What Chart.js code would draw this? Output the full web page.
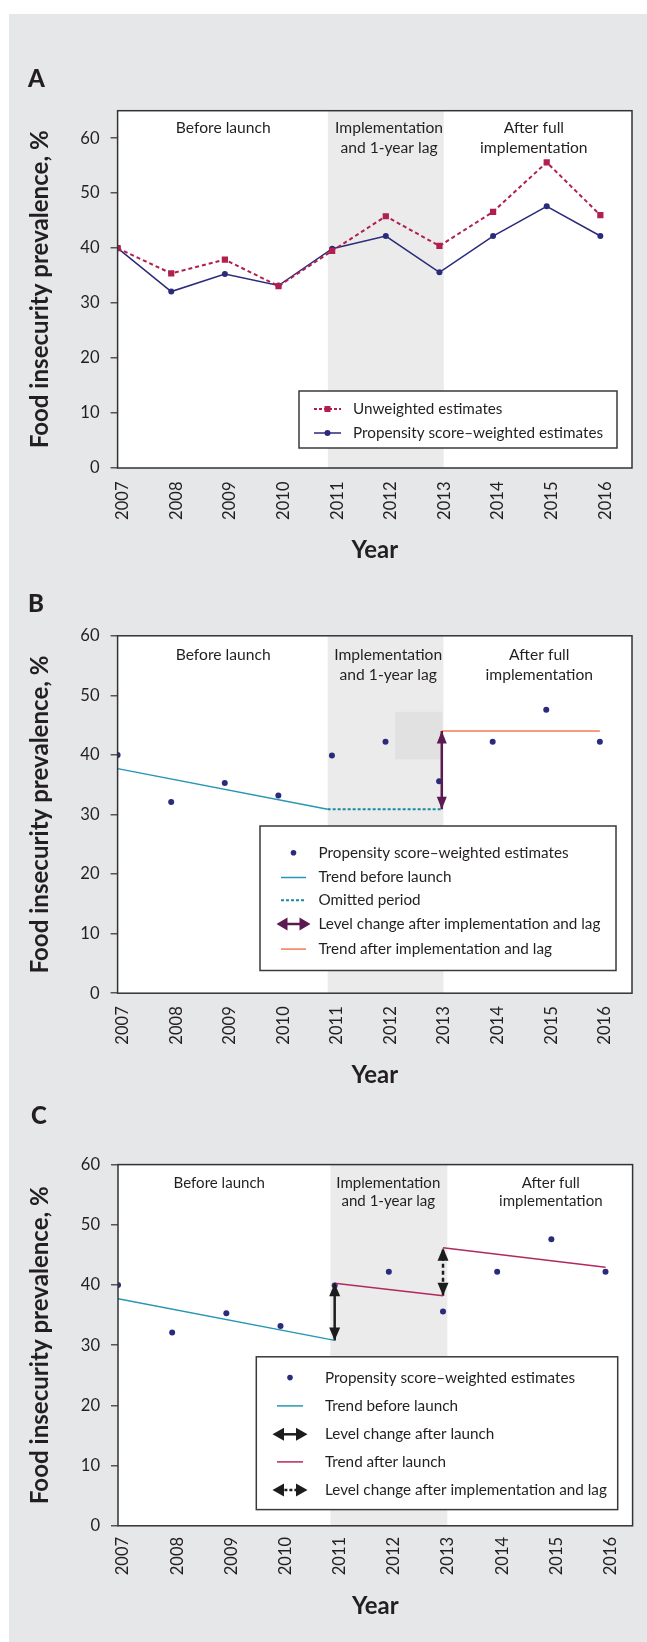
<!DOCTYPE html>
<html lang="en">
<head>
<meta charset="utf-8">
<title>Food insecurity prevalence, 2007–2016</title>
<script src="https://cdn.jsdelivr.net/npm/chart.js@4.4.1/dist/chart.umd.min.js"></script>
<style>
  html, body { margin:0; padding:0; background:#ffffff; }
  body { position:relative; width:647px; height:1642px; overflow:hidden; }
  #bg { position:absolute; left:9px; top:14px; width:638px; height:1628px; background:#e6e7e8; }
  .panel { position:absolute; left:0; width:647px; }
  .panel canvas { display:block; }
  .letter { position:absolute; margin:0; font-family:Lato, "Noto Sans", sans-serif; font-weight:900; font-size:24px; line-height:24px; color:#231f20; }
</style>
</head>
<body>
<div id="bg"></div>
<div class="panel" style="top:0px;height:580px"><canvas id="chartA" width="647" height="580"></canvas></div>
<div class="panel" style="top:580px;height:520px"><canvas id="chartB" width="647" height="520"></canvas></div>
<div class="panel" style="top:1100px;height:542px"><canvas id="chartC" width="647" height="542"></canvas></div>
<div class="letter" style="left:28px;top:66px">A</div>
<div class="letter" style="left:28px;top:591px">B</div>
<div class="letter" style="left:31px;top:1103px">C</div>
<script>
// ---------------- data ----------------
const years = [2007, 2008, 2009, 2010, 2011, 2012, 2013, 2014, 2015, 2016];
const yTicks = [0, 10, 20, 30, 40, 50, 60];
const unweighted = [40.0, 35.4, 37.9, 33.1, 39.5, 45.8, 40.4, 46.6, 55.6, 46.0];
const weighted   = [40.0, 32.1, 35.3, 33.2, 39.9, 42.2, 35.6, 42.2, 47.6, 42.2];
const shadeYears = [2010.92, 2013.08];
const periodLabels = [['Before launch'], ['Implementation', 'and 1-year lag'], ['After full', 'implementation']];

// Panel B (interrupted time series, omitted period)
const trendBeforeX_B = [2007, 2010.92];
const trendBeforeY_B = [37.7, 30.9];
const omittedX = [2010.92, 2013.05];
const omittedY = [30.9, 30.9];
const levelChangeX_B = [2013.05, 2013.05];
const levelChangeY_B = [30.9, 44.0];
const trendAfterX_B = [2013.05, 2016];
const trendAfterY_B = [44.0, 44.0];
const greyBoxX = [2012.18, 2013.06];
const greyBoxY = [39.25, 47.25];

// Panel C (two level changes)
const trendBeforeX_C = [2007, 2011];
const trendBeforeY_C = [37.7, 30.8];
const launchChangeX = [2011, 2011];
const launchChangeY = [30.8, 40.3];
const afterLaunchX1 = [2011, 2013];
const afterLaunchY1 = [40.3, 38.2];
const implChangeX = [2013, 2013];
const implChangeY = [38.2, 46.2];
const afterLaunchX2 = [2013, 2016];
const afterLaunchY2 = [46.2, 42.95];

// ---------------- styles ----------------
const FONT = 'Lato, "Noto Sans", sans-serif';
const INK = '#231f20';
const NAVY = '#2a2b7a';
const CRIMSON = '#b01f4e';
const TEAL = '#2596b4';
const TEAL_DARK = '#1a8aa3';
const ORANGE = '#f37b52';
const PLUM = '#5c1a52';
const BERRY = '#b3285f';
const BLACK = '#1c1c1c';

const mctx = document.createElement('canvas').getContext('2d');
function fit(text, target, weight) {
  mctx.font = weight + ' 100px ' + FONT;
  return +(100 * target / mctx.measureText(text).width).toFixed(2);
}
const tickSize = fit('2007', 38.5, 400);
const legendSize = fit('Propensity score\u2013weighted estimates', 250, 400);
const yTitleSize = fit('Food insecurity prevalence, %', 318, 700);
const xTitleSize = fit('Year', 46.7, 700);

function pts(xs, ys) { return xs.map((x, i) => ({ x: x, y: ys[i] })); }

function head(ctx, x, y, dx, dy, len, halfW) {
  const bx = x - dx * len, by = y - dy * len;
  const px = -dy, py = dx;
  ctx.beginPath();
  ctx.moveTo(x, y);
  ctx.lineTo(bx + px * halfW, by + py * halfW);
  ctx.lineTo(bx - px * halfW, by - py * halfW);
  ctx.closePath();
  ctx.fill();
}

function drawSymbol(ctx, s, cx, cy, half) {
  ctx.save();
  ctx.strokeStyle = s.color; ctx.fillStyle = s.color;
  if (s.type === 'dot') {
    ctx.beginPath(); ctx.arc(cx, cy, s.r, 0, Math.PI * 2); ctx.fill();
  } else if (s.type === 'line') {
    ctx.lineWidth = s.width; ctx.setLineDash(s.dash || []);
    ctx.beginPath(); ctx.moveTo(cx - half, cy); ctx.lineTo(cx + half, cy); ctx.stroke();
    ctx.setLineDash([]);
    if (s.marker === 'rect') ctx.fillRect(cx - s.size / 2, cy - s.size / 2, s.size, s.size);
    if (s.marker === 'circle') { ctx.beginPath(); ctx.arc(cx, cy, s.size, 0, Math.PI * 2); ctx.fill(); }
  } else if (s.type === 'arrow') {
    const L = s.half;
    ctx.lineWidth = s.width; ctx.setLineDash(s.dash || []);
    ctx.beginPath(); ctx.moveTo(cx - L + s.len * 0.6, cy); ctx.lineTo(cx + L - s.len * 0.6, cy); ctx.stroke();
    ctx.setLineDash([]);
    head(ctx, cx - L, cy, -1, 0, s.len, s.halfW);
    head(ctx, cx + L, cy, 1, 0, s.len, s.halfW);
  }
  ctx.restore();
}

function makeDecor(p) {
  return {
    id: 'decor' + p.name,
    beforeDraw(chart) {
      const { ctx, chartArea: a, scales: { x, y } } = chart;
      ctx.save();
      ctx.fillStyle = '#ffffff';
      ctx.fillRect(a.left, a.top, a.right - a.left, a.bottom - a.top);
      const s0 = x.getPixelForValue(shadeYears[0]), s1 = x.getPixelForValue(shadeYears[1]);
      ctx.fillStyle = '#ebebeb';
      ctx.fillRect(s0, a.top, s1 - s0, a.bottom - a.top);
      if (p.greyBox) {
        const bx0 = x.getPixelForValue(p.greyBox.x[0]), bx1 = x.getPixelForValue(p.greyBox.x[1]);
        const by0 = y.getPixelForValue(p.greyBox.y[1]), by1 = y.getPixelForValue(p.greyBox.y[0]);
        ctx.fillStyle = '#e1e1e1';
        ctx.fillRect(bx0, by0, bx1 - bx0, by1 - by0);
      }
      ctx.restore();
    },
    beforeDatasetsDraw(chart) {
      const { ctx, chartArea: a, scales: { x } } = chart;
      ctx.save();
      ctx.fillStyle = INK;
      ctx.font = '400 ' + p.regionSize + 'px ' + FONT;
      ctx.textAlign = 'center';
      ctx.textBaseline = 'middle';
      periodLabels.forEach((lines, i) => {
        const px = x.getPixelForValue(p.regionX[i]);
        lines.forEach((t, j) => ctx.fillText(t, px, a.top + p.regionY0 + j * p.regionGap));
      });
      ctx.restore();
    },
    afterDatasetsDraw(chart) {
      const { ctx, scales: { x, y } } = chart;
      (p.arrows || []).forEach(ar => {
        ctx.save();
        ctx.fillStyle = ar.color;
        const px0 = x.getPixelForValue(ar.x[0]), py0 = y.getPixelForValue(ar.y[0]);
        const px1 = x.getPixelForValue(ar.x[1]), py1 = y.getPixelForValue(ar.y[1]);
        head(ctx, px0, py0, 0, 1, ar.len, ar.halfW);
        head(ctx, px1, py1, 0, -1, ar.len, ar.halfW);
        ctx.restore();
      });
    },
    afterDraw(chart) {
      const { ctx, chartArea: a } = chart;
      ctx.save();
      ctx.strokeStyle = '#333333';
      ctx.lineWidth = 1.5;
      ctx.strokeRect(a.left, a.top, a.right - a.left, a.bottom - a.top);
      const lg = p.legend;
      ctx.fillStyle = '#ffffff';
      ctx.fillRect(lg.box[0], lg.box[1], lg.box[2], lg.box[3]);
      ctx.strokeStyle = '#3a3a3a';
      ctx.lineWidth = 1.5;
      ctx.strokeRect(lg.box[0], lg.box[1], lg.box[2], lg.box[3]);
      lg.items.forEach(it => {
        drawSymbol(ctx, it.sym, lg.symX, it.y, lg.symHalf);
        ctx.fillStyle = INK;
        ctx.font = '400 ' + legendSize + 'px ' + FONT;
        ctx.textAlign = 'left';
        ctx.textBaseline = 'middle';
        ctx.fillText(it.text, lg.textX, it.y);
      });
      ctx.restore();
    }
  };
}

function buildChart(id, p) {
  const xAxisH = p.titleOffset + xTitleSize / 2;
  return new Chart(document.getElementById(id), {
    type: 'line',
    data: { datasets: p.datasets },
    options: {
      responsive: false,
      maintainAspectRatio: false,
      animation: false,
      devicePixelRatio: 1,
      events: [],
      layout: { padding: { left: 0, top: p.top, right: 647 - p.right, bottom: p.height - p.bottom - xAxisH } },
      plugins: { legend: { display: false }, tooltip: { enabled: false }, title: { display: false } },
      elements: { line: { tension: 0 } },
      scales: {
        x: {
          type: 'linear', min: 2007, max: p.xMax,
          afterBuildTicks: s => { s.ticks = years.map(v => ({ value: v })); },
          afterFit: s => { s.height = xAxisH; },
          grid: { display: false, drawTicks: false },
          border: { display: false },
          ticks: {
            autoSkip: false, minRotation: 90, maxRotation: 90, padding: p.xTickPad, labelOffset: 5,
            color: INK, font: { family: FONT, size: tickSize, lineHeight: 1 },
            callback: v => String(v)
          },
          title: {
            display: true, text: 'Year', color: INK,
            font: { family: FONT, size: xTitleSize, weight: 'bold', lineHeight: 1 },
            padding: { top: 0, bottom: 0 }
          }
        },
        y: {
          min: 0, max: p.yMax,
          afterBuildTicks: s => { s.ticks = yTicks.map(v => ({ value: v })); },
          afterFit: s => { s.width = p.left; },
          grid: { drawOnChartArea: false, drawTicks: true, tickLength: 7, color: '#555555', lineWidth: 1.5 },
          border: { display: false },
          ticks: {
            padding: 11, color: INK, font: { family: FONT, size: tickSize },
            callback: v => String(v)
          },
          title: {
            display: true, text: 'Food insecurity prevalence, %', color: INK,
            font: { family: FONT, size: yTitleSize, weight: 'bold', lineHeight: 1 },
            padding: { top: 40 - yTitleSize / 2, bottom: 0 }
          }
        }
      }
    },
    plugins: [makeDecor(p)]
  });
}

const pointSet = {
  label: 'Propensity score\u2013weighted estimates',
  data: pts(years, weighted), showLine: false,
  pointRadius: 3, pointBorderWidth: 0, pointBackgroundColor: NAVY, borderColor: NAVY, order: 10
};
function lineSet(label, xs, ys, color, width, dash) {
  return { label: label, data: pts(xs, ys), borderColor: color, borderWidth: width, borderDash: dash || [], pointRadius: 0, fill: false, order: 1 };
}

// ---------------- Panel A ----------------
buildChart('chartA', {
  name: 'A', height: 580, top: 110.7, bottom: 468, left: 117.6, right: 632,
  xMax: 2016.59, yMax: 65, titleOffset: 82, xTickPad: 13.5,
  regionSize: fit('Implementation', 108, 400), regionX: [2008.97, 2012.06, 2014.76], regionY0: 16.8, regionGap: 20.7,
  datasets: [
    { label: 'Unweighted estimates', data: pts(years, unweighted), borderColor: CRIMSON, backgroundColor: CRIMSON,
      borderWidth: 2, borderDash: [4, 3], pointStyle: 'rect', pointRadius: 4.4, pointBorderWidth: 0,
      pointBackgroundColor: CRIMSON, order: 0 },
    { label: 'Propensity score\u2013weighted estimates', data: pts(years, weighted), borderColor: NAVY, backgroundColor: NAVY,
      borderWidth: 1.5, pointStyle: 'circle', pointRadius: 3, pointBorderWidth: 0, pointBackgroundColor: NAVY, order: 1 }
  ],
  legend: {
    box: [299, 391, 318, 57], symX: 327.5, symHalf: 13.5, textX: 353,
    items: [
      { text: 'Unweighted estimates', y: 409, sym: { type: 'line', color: CRIMSON, width: 2, dash: [3, 2], marker: 'rect', size: 6 } },
      { text: 'Propensity score\u2013weighted estimates', y: 433, sym: { type: 'line', color: NAVY, width: 1.5, dash: [], marker: 'circle', size: 3 } }
    ]
  }
});

// ---------------- Panel B ----------------
buildChart('chartB', {
  name: 'B', height: 520, top: 55.8, bottom: 413.2, left: 117.6, right: 632,
  xMax: 2016.6, yMax: 60, titleOffset: 82.3, xTickPad: 13,
  regionSize: fit('Implementation', 108, 400), regionX: [2008.97, 2012.05, 2014.87], regionY0: 18.9, regionGap: 20,
  greyBox: { x: greyBoxX, y: greyBoxY },
  datasets: [
    pointSet,
    lineSet('Trend before launch', trendBeforeX_B, trendBeforeY_B, TEAL, 1.5),
    lineSet('Omitted period', omittedX, omittedY, TEAL_DARK, 2, [3, 2]),
    lineSet('Level change after implementation and lag', levelChangeX_B, levelChangeY_B, PLUM, 2.5),
    lineSet('Trend after implementation and lag', trendAfterX_B, trendAfterY_B, ORANGE, 1.5)
  ],
  arrows: [{ x: levelChangeX_B, y: levelChangeY_B, color: PLUM, len: 12.5, halfW: 5 }],
  legend: {
    box: [260, 246, 356, 144.5], symX: 293.5, symHalf: 12.5, textX: 318.5,
    items: [
      { text: 'Propensity score\u2013weighted estimates', y: 272.7, sym: { type: 'dot', color: NAVY, r: 2.8 } },
      { text: 'Trend before launch', y: 297.5, sym: { type: 'line', color: TEAL, width: 1.5 } },
      { text: 'Omitted period', y: 320.2, sym: { type: 'line', color: TEAL_DARK, width: 2, dash: [3, 2] } },
      { text: 'Level change after implementation and lag', y: 344, sym: { type: 'arrow', color: PLUM, width: 2.5, half: 17, len: 11, halfW: 6.5 } },
      { text: 'Trend after implementation and lag', y: 369.1, sym: { type: 'line', color: ORANGE, width: 1.5 } }
    ]
  }
});

// ---------------- Panel C ----------------
buildChart('chartC', {
  name: 'C', height: 542, top: 64.6, bottom: 425.8, left: 118, right: 632.6,
  xMax: 2016.5, yMax: 60, titleOffset: 80.9, xTickPad: 11,
  regionSize: fit('Implementation', 104, 400), regionX: [2008.87, 2011.99, 2014.99], regionY0: 18.4, regionGap: 18.3,
  datasets: [
    pointSet,
    lineSet('Trend before launch', trendBeforeX_C, trendBeforeY_C, TEAL, 1.5),
    lineSet('Level change after launch', launchChangeX, launchChangeY, BLACK, 2.5),
    lineSet('Trend after launch', afterLaunchX1, afterLaunchY1, BERRY, 1.5),
    lineSet('Trend after launch', afterLaunchX2, afterLaunchY2, BERRY, 1.5),
    lineSet('Level change after implementation and lag', implChangeX, implChangeY, BLACK, 2.5, [4, 3])
  ],
  arrows: [
    { x: launchChangeX, y: launchChangeY, color: BLACK, len: 13, halfW: 5.5 },
    { x: implChangeX, y: implChangeY, color: BLACK, len: 13, halfW: 5.5 }
  ],
  legend: {
    box: [256.3, 256.8, 361.4, 152.8], symX: 290, symHalf: 13, textX: 325,
    items: [
      { text: 'Propensity score\u2013weighted estimates', y: 277.6, sym: { type: 'dot', color: NAVY, r: 2.8 } },
      { text: 'Trend before launch', y: 305.9, sym: { type: 'line', color: TEAL, width: 1.5 } },
      { text: 'Level change after launch', y: 334.3, sym: { type: 'arrow', color: BLACK, width: 2.5, half: 17.5, len: 11.5, halfW: 6.5 } },
      { text: 'Trend after launch', y: 361.9, sym: { type: 'line', color: BERRY, width: 1.5 } },
      { text: 'Level change after implementation and lag', y: 389.9, sym: { type: 'arrow', color: BLACK, width: 2.5, dash: [3, 2], half: 17.5, len: 11.5, halfW: 6.5 } }
    ]
  }
});
</script>
</body>
</html>
